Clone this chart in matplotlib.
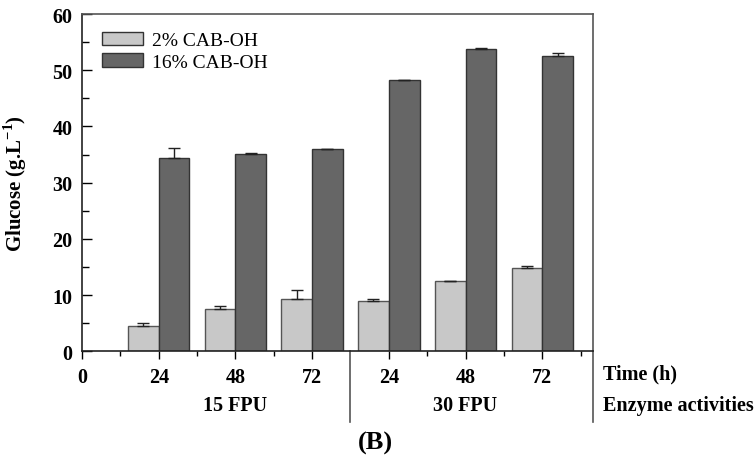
import numpy as np
import matplotlib.pyplot as plt
from matplotlib.patches import Patch

plt.rcParams['font.family'] = ['Liberation Serif', 'DejaVu Serif']
plt.rcParams['mathtext.fontset'] = 'custom'
plt.rcParams['mathtext.rm'] = 'Liberation Serif'
plt.rcParams['mathtext.bf'] = 'Liberation Serif:bold'

# time points and enzyme loadings
time_labels = ['24', '48', '72', '24', '48', '72']
enzyme_groups = ['15 FPU', '30 FPU']

# glucose (g/L) and upper error bar size
cab_2 = [4.55, 7.45, 9.35, 8.9, 12.45, 14.75]
cab_2_err = [0.4, 0.65, 1.55, 0.35, 0.12, 0.35]
cab_16 = [34.45, 35.15, 35.95, 48.2, 53.8, 52.5]
cab_16_err = [1.75, 0.12, 0.05, 0.05, 0.1, 0.55]

pos = np.array([2, 4, 6, 8, 10, 12])
w = 0.8

fig = plt.figure(figsize=(7.54, 4.56), dpi=100)
ax = fig.add_axes([0.1088, 0.2274, 0.678, 0.7397])

light = '#c8c8c8'
dark = '#666666'
ekw = dict(ecolor='#222222', elinewidth=1, capsize=4, capthick=1)
ax.bar(pos - w / 2, cab_2, width=w, color=light, edgecolor='#555555', linewidth=1.0,
       yerr=[np.zeros(6), cab_2_err], error_kw=ekw, zorder=2)
ax.bar(pos + w / 2, cab_16, width=w, color=dark, edgecolor='#333333', linewidth=1.0,
       yerr=[np.zeros(6), cab_16_err], error_kw=ekw, zorder=2)

ax.set_xlim(0, 13.33)
ax.set_ylim(0, 60)
ax.set_xticks([0] + list(pos))
ax.set_xticklabels(['0'] + time_labels)
ax.set_xticks([1, 3, 5, 9, 11, 13], minor=True)
ax.set_yticks(np.arange(0, 61, 10))
ax.set_yticks(np.arange(5, 60, 10), minor=True)

for lab in ax.get_xticklabels() + ax.get_yticklabels():
    lab.set_fontweight('bold')
ax.tick_params(axis='x', which='major', direction='out', length=6, width=1, labelsize=14.5, pad=5)
ax.tick_params(axis='x', which='minor', direction='out', length=3.5, width=1)
ax.tick_params(axis='y', which='major', direction='in', length=7, width=1, labelsize=14.5, pad=7)
ax.tick_params(axis='y', which='minor', direction='in', length=5, width=1)

for s in ['left', 'bottom']:
    ax.spines[s].set_color('#222222')
    ax.spines[s].set_linewidth(1.2)
for s in ['top', 'right']:
    ax.spines[s].set_color('#555555')
    ax.spines[s].set_linewidth(1.2)

# group separator and right spine extension below the axis
trans = ax.get_xaxis_transform()
ax.plot([7, 7], [0, -0.21], transform=trans, color='#555555', lw=1.2, clip_on=False)
ax.plot([13.33, 13.33], [0, -0.21], transform=trans, color='#555555', lw=1.2, clip_on=False)

ax.set_ylabel('Glucose (g.L$^{\\mathbf{-1}}$)', fontsize=15, fontweight='bold')
ax.yaxis.set_label_coords(-0.104, 0.5)

ax.text(4, -0.16, enzyme_groups[0], transform=trans, ha='center', va='center',
        fontsize=14.5, fontweight='bold')
ax.text(10, -0.16, enzyme_groups[1], transform=trans, ha='center', va='center',
        fontsize=14.5, fontweight='bold')
ax.text(13.33 + 0.25, -0.067, 'Time (h)', transform=trans, ha='left', va='center',
        fontsize=14.5, fontweight='bold')
ax.text(13.33 + 0.25, -0.16, 'Enzyme activities', transform=trans, ha='left', va='center',
        fontsize=14.5, fontweight='bold')
fig.text(375 / 754, 1 - 443 / 456, '(B)', ha='center', va='center', fontsize=19, fontweight='bold')

handles = [Patch(facecolor=light, edgecolor='#333333', label='2% CAB-OH'),
           Patch(facecolor=dark, edgecolor='#333333', label='16% CAB-OH')]
ax.legend(handles=handles, loc='upper left', bbox_to_anchor=(0.039, 0.948), frameon=False,
          fontsize=14, handlelength=2.1, handleheight=0.72, handletextpad=0.45, labelspacing=0.2,
          borderpad=0, borderaxespad=0)

fig.savefig('out.png', dpi=100)
